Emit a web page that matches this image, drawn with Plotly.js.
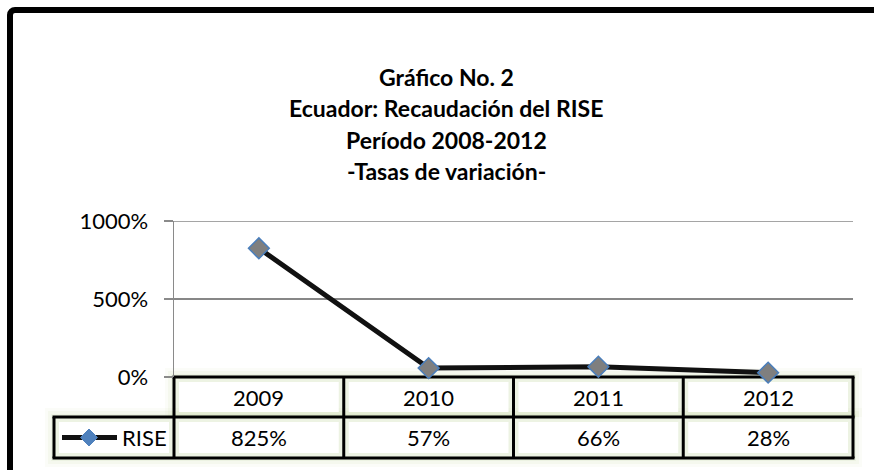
<!DOCTYPE html>
<html>
<head>
<meta charset="utf-8">
<script src="https://cdn.plot.ly/plotly-3.0.1.min.js"></script>
<style>
  html, body { margin: 0; padding: 0; overflow: hidden; background: #fff; }
  #chart { width: 874px; height: 470px; }
  #frame { position: absolute; left: 7px; top: 7px; width: 900px; height: 500px;
           border: 6px solid #000; border-radius: 8px; pointer-events: none; box-sizing: border-box; }
</style>
</head>
<body>
<div id="chart"></div>
<div id="frame"></div>
<script>
// ---- data ----
const categories = ['2009', '2010', '2011', '2012'];
const values = [825, 57, 66, 28];
const valueLabels = ['825%', '57%', '66%', '28%'];
const seriesName = 'RISE';
const yTickVals = [0, 500, 1000];
const yTickText = ['0%', '500%', '1000%'];
const titleLines = ['Gráfico No. 2', 'Ecuador: Recaudación del RISE', 'Período 2008-2012', '-Tasas de variación-'];

// ---- layout geometry (pixels) ----
const Wt = 874, Ht = 470;
const M = { l: 174, r: 21, t: 221, b: 93 };
const pw = Wt - M.l - M.r, ph = Ht - M.t - M.b;
const PX = p => (p - M.l) / pw;
const PY = p => (Ht - M.b - p) / ph;
const n = categories.length;

const FONT = 'Lato, "Noto Sans", sans-serif';
const shapes = [];
const annotations = [];

// title
const titleY = [77, 108, 140, 171];
titleLines.forEach((t, i) => annotations.push({
  text: '<b>' + t + '</b>', xref: 'paper', yref: 'paper', x: PX(446), y: PY(titleY[i]),
  xanchor: 'center', yanchor: 'middle', showarrow: false,
  font: { family: FONT, size: 23, color: '#000' }
}));

// top gridline (at the maximum of the value axis)
shapes.push({ type: 'line', xref: 'paper', yref: 'y', layer: 'below',
  x0: 0, x1: 1, y0: yTickVals[yTickVals.length - 1], y1: yTickVals[yTickVals.length - 1],
  line: { color: '#878787', width: 1.5 } });

// table geometry
const rowTop = 377, rowMid = 417, rowBot = 458, legLeft = 54, tableRight = 853;
// glow
[[9, 0.05], [6, 0.07], [3, 0.09]].forEach(([e, a]) => {
  shapes.push({ type: 'rect', xref: 'paper', yref: 'paper', layer: 'below',
    x0: PX(legLeft - e), x1: PX(tableRight + e), y0: PY(rowMid - e), y1: PY(rowBot + e),
    fillcolor: 'rgba(170,200,120,' + a + ')', line: { width: 0 } });
  shapes.push({ type: 'rect', xref: 'paper', yref: 'paper', layer: 'below',
    x0: PX(M.l - e), x1: PX(tableRight + e), y0: PY(rowTop - e), y1: PY(rowMid),
    fillcolor: 'rgba(170,200,120,' + a + ')', line: { width: 0 } });
});
// white cell interiors
const colEdges = [];
for (let i = 0; i <= n; i++) colEdges.push(M.l + pw * i / n);
const inset = 5;
for (let i = 0; i < n; i++) {
  [[rowTop, rowMid], [rowMid, rowBot]].forEach(([a, b]) => shapes.push({
    type: 'rect', xref: 'paper', yref: 'paper', layer: 'below',
    x0: PX(colEdges[i] + inset), x1: PX(colEdges[i + 1] - inset), y0: PY(a + inset), y1: PY(b - inset),
    fillcolor: '#fff', line: { width: 0 } }));
}
shapes.push({ type: 'rect', xref: 'paper', yref: 'paper', layer: 'below',
  x0: PX(legLeft + inset), x1: PX(M.l - inset), y0: PY(rowMid + inset), y1: PY(rowBot - inset),
  fillcolor: '#fff', line: { width: 0 } });

// borders
const bl = { color: '#000', width: 3 };
function hline(x0, x1, y) {
  shapes.push({ type: 'line', xref: 'paper', yref: 'paper', layer: 'between',
    x0: PX(x0), x1: PX(x1), y0: PY(y), y1: PY(y), line: bl });
}
function vline(x, y0, y1) {
  shapes.push({ type: 'line', xref: 'paper', yref: 'paper', layer: 'between',
    x0: PX(x), x1: PX(x), y0: PY(y0), y1: PY(y1), line: bl });
}
hline(M.l - 1.5, tableRight + 1.5, rowTop);
hline(legLeft - 1.5, tableRight + 1.5, rowMid);
hline(legLeft - 1.5, tableRight + 1.5, rowBot);
colEdges.forEach(x => vline(x, rowTop, rowBot));
vline(legLeft, rowMid, rowBot);

// table texts (from data arrays, centred in each category column)
categories.forEach((c, i) => {
  const cx = PX(M.l + pw * (i + 0.5) / n);
  annotations.push({ text: c, xref: 'paper', yref: 'paper', x: cx, y: PY((rowTop + rowMid) / 2),
    xanchor: 'center', yanchor: 'middle', showarrow: false, font: { family: FONT, size: 22, color: '#000' } });
  annotations.push({ text: valueLabels[i], xref: 'paper', yref: 'paper', x: cx, y: PY((rowMid + rowBot) / 2),
    xanchor: 'center', yanchor: 'middle', showarrow: false, font: { family: FONT, size: 22, color: '#000' } });
});

// legend key in table
const ly = (rowMid + rowBot) / 2;
shapes.push({ type: 'line', xref: 'paper', yref: 'paper', layer: 'above',
  x0: PX(62), x1: PX(117), y0: PY(ly), y1: PY(ly), line: { color: '#111', width: 5 } });
const dx = 89, dw = 8.5, dh = 8.5;
shapes.push({ type: 'path', xref: 'paper', yref: 'paper', layer: 'above',
  path: `M ${PX(dx)} ${PY(ly - dh)} L ${PX(dx + dw)} ${PY(ly)} L ${PX(dx)} ${PY(ly + dh)} L ${PX(dx - dw)} ${PY(ly)} Z`,
  fillcolor: '#4f81bd', line: { color: '#4f81bd', width: 1 } });
annotations.push({ text: seriesName, xref: 'paper', yref: 'paper', x: PX(120), y: PY(ly),
  xanchor: 'left', yanchor: 'middle', showarrow: false, font: { family: FONT, size: 22, color: '#000' } });

const trace = {
  type: 'scatter', mode: 'lines+markers', name: seriesName,
  x: categories, y: values,
  line: { color: '#111', width: 5 },
  marker: { symbol: 'diamond', size: 16, color: '#7f7f7f', line: { color: '#4a7ebb', width: 1.5 } },
  cliponaxis: false, showlegend: false
};

const layout = {
  width: Wt, height: Ht,
  margin: M,
  paper_bgcolor: 'rgba(0,0,0,0)', plot_bgcolor: 'rgba(0,0,0,0)',
  showlegend: false,
  xaxis: { type: 'category', range: [-0.5, n - 0.5], showticklabels: false,
           showgrid: false, zeroline: false, showline: false, ticks: '' },
  yaxis: { range: [0, 1000], tickvals: yTickVals, ticktext: yTickText,
           showgrid: true, gridcolor: '#878787', gridwidth: 1.5, zeroline: false,
           showline: true, linecolor: '#8a8a8a', linewidth: 1.5,
           ticks: 'outside', ticklen: 9, tickcolor: '#8a8a8a', tickwidth: 1.5,
           ticklabelstandoff: 11,
           tickfont: { family: FONT, size: 22, color: '#000' } },
  shapes: shapes, annotations: annotations
};

Plotly.newPlot('chart', [trace], layout, { staticPlot: true, displayModeBar: false });
</script>
</body>
</html>
